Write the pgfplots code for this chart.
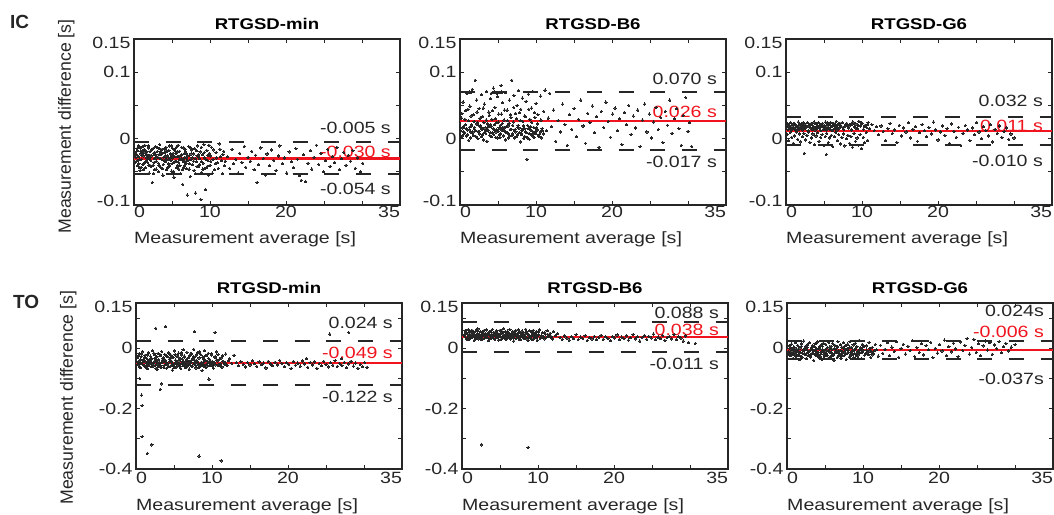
\documentclass[border=0pt]{standalone}
\usepackage{pgfplots}
\pgfplotsset{compat=1.18}
\usepackage{fontspec}
\setmainfont{Liberation Sans}[FakeStretch=1.2]
\newfontfamily\plainsans{Liberation Sans}
\newcommand\tf{\fontsize{16.3bp}{19bp}\selectfont}
\newcommand\ttlf{\fontsize{15.5bp}{18bp}\selectfont}
\newcommand\ylf{\plainsans\fontsize{17.7bp}{20bp}\selectfont}
\newcommand\up[1]{\raisebox{4bp}[\height][\depth]{#1}}
\newcommand\dn[1]{\raisebox{-4bp}[\height][\depth]{#1}}
\definecolor{dk}{gray}{0.15}
\definecolor{lred}{RGB}{240,20,30}
\tikzset{
  lab/.style={anchor=east, inner sep=0pt, xshift=-9bp, font=\tf, text=dk},
  rlab/.style={anchor=east, inner sep=0pt, xshift=-9bp, font=\tf, text=lred},
}
\pgfplotsset{
  ba/.style={
    scale only axis, width=266bp, height=166bp,
    xmin=0, xmax=35,
    xtick={0,5,...,35},
    xticklabels={\hphantom{0}0,,10,,20,,,35\hphantom{35}},
    tick align=inside, tick pos=both,
    major tick length=4bp,
    axis line style={line width=1.5bp, draw=dk},
    every tick/.style={line width=0.8bp, dk},
    tick label style={font=\tf, text=dk},
    /pgf/number format/assume math mode=true,
    title style={font=\ttlf\bfseries, text=black, inner sep=0pt, anchor=base, at={(0.5,1)}, yshift=4bp},
    xlabel={Measurement average [s]},
    xlabel style={font=\tf, text=dk, inner sep=0pt, anchor=base west, at={(axis description cs:0,0)}},
    clip=true,
  },
  row1/.style={ymin=-0.1, ymax=0.15, ytick={-0.1,-0.05,0,0.05,0.1,0.15}, yticklabels={\up{-0.1},,0,,0.1,\dn{0.15}},
    xlabel style={yshift=-38bp}, xticklabel style={yshift=2bp}},
  row2/.style={ymin=-0.4, ymax=0.15, ytick={-0.4,-0.3,-0.2,-0.1,0,0.1,0.15}, yticklabels={-0.4,,-0.2,,0,,\dn{0.15}},
    xlabel style={yshift=-41bp}},
  pts/.style={only marks, mark=*, mark size=1.15bp, color=black!85, mark options={line width=0pt}},
  mline/.style={lred, line width=2.2bp},
  dline/.style={dk, line width=2bp, dash pattern=on 15bp off 16.7bp},
}
\begin{document}
\begin{tikzpicture}
\path[use as bounding box] (0,0) rectangle (1054bp,-515bp);
\node[anchor=base west, inner sep=0pt, font=\plainsans\bfseries\fontsize{19bp}{22bp}\selectfont, text=dk] at (10bp,-28bp) {IC};
\node[anchor=base west, inner sep=0pt, font=\plainsans\bfseries\fontsize{19bp}{22bp}\selectfont, text=dk] at (13bp,-308bp) {TO};

% ---------- IC, RTGSD-min ----------
\begin{axis}[ba, row1, at={(134bp,-39bp)}, anchor=north west, title={RTGSD-min},
  ylabel={Measurement difference [s]},
  ylabel style={font=\ylf, text=dk, inner sep=0pt, at={(axis description cs:-0.237,0.473)}, anchor=base}]
\addplot[pts] coordinates {
(0.2,-0.021) (0.3,-0.034) (0.4,-0.015) (0.5,-0.041) (0.6,-0.027) (0.7,-0.012) (0.8,-0.048) (0.9,-0.023) (1.0,-0.031) (1.1,-0.018) (1.2,-0.039) (1.3,-0.026) (1.4,-0.010) (1.5,-0.044) (1.6,-0.029) (1.7,-0.020) (1.8,-0.036) (1.9,-0.014) (2.0,-0.052) (2.1,-0.025) (2.2,-0.033) (2.3,-0.017) (2.4,-0.066) (2.5,-0.040) (2.6,-0.022) (2.7,-0.030) (2.8,-0.012) (2.9,-0.046) (3.0,-0.027) (3.1,-0.019) (3.2,-0.037) (3.3,-0.024) (3.4,-0.009) (3.5,-0.043) (3.6,-0.031) (3.7,-0.016) (3.8,-0.055) (3.9,-0.028) (4.0,-0.021) (4.1,-0.035) (4.2,-0.013) (4.3,-0.047) (4.4,-0.026) (4.5,-0.032) (4.6,-0.018) (4.7,-0.040) (4.8,-0.023) (4.9,-0.011) (5.0,-0.038) (5.1,-0.029) (5.2,-0.050) (5.3,-0.016) (5.4,-0.034) (5.5,-0.022) (5.6,-0.044) (5.7,-0.027) (5.8,-0.010) (5.9,-0.036) (6.0,-0.019) (6.1,-0.053) (6.2,-0.030) (6.3,-0.024) (6.4,-0.069) (6.5,-0.014) (6.6,-0.041) (6.7,-0.028) (6.8,-0.020) (6.9,-0.045) (7.0,-0.085) (7.1,-0.033) (7.2,-0.012) (7.3,-0.025) (7.4,-0.057) (7.5,-0.031) (7.6,-0.017) (7.7,-0.039) (7.8,-0.023) (7.9,-0.048) (8.1,-0.082) (8.0,-0.015) (8.2,-0.035) (8.3,-0.026) (8.4,-0.011) (8.5,-0.042) (8.6,-0.030) (8.8,-0.092) (8.7,-0.020) (8.9,-0.051) (9.0,-0.024) (9.1,-0.037) (9.2,-0.009) (9.4,-0.077) (9.3,-0.029) (9.5,-0.044) (9.6,-0.018) (9.7,-0.033) (9.8,-0.055) (9.9,-0.022) (10.0,-0.040) (10.2,-0.013) (10.4,-0.031) (10.6,-0.047) (10.8,-0.021) (11.0,-0.036) (11.2,-0.008) (11.4,-0.027) (11.6,-0.053) (11.8,-0.019) (12.0,-0.034)
(0.25,-0.028) (0.45,-0.018) (0.65,-0.038) (0.85,-0.014) (1.05,-0.025) (1.25,-0.047) (1.45,-0.020) (1.65,-0.033) (1.85,-0.011) (2.05,-0.029) (2.25,-0.042) (2.45,-0.016) (2.65,-0.036) (2.85,-0.024) (3.05,-0.013) (3.25,-0.050) (3.45,-0.030) (3.65,-0.021) (3.85,-0.039) (4.05,-0.015) (4.25,-0.028) (4.45,-0.044) (4.65,-0.011) (4.85,-0.033) (5.05,-0.024) (5.25,-0.058) (5.45,-0.019) (5.65,-0.035) (5.85,-0.027) (6.05,-0.041) (6.25,-0.013) (6.45,-0.032) (6.65,-0.022) (6.85,-0.037) (7.05,-0.026) (7.25,-0.046) (7.45,-0.014) (7.65,-0.029) (7.85,-0.034) (8.05,-0.053) (8.25,-0.018) (8.45,-0.027) (8.65,-0.039) (8.85,-0.013) (9.05,-0.046) (9.25,-0.021) (9.45,-0.031) (9.65,-0.042) (9.85,-0.010) (10.1,-0.026) (10.3,-0.052) (10.5,-0.017) (10.7,-0.038) (10.9,-0.029) (11.1,-0.045) (11.3,-0.016) (11.5,-0.033) (11.7,-0.024) (11.9,-0.041)
(0.15,-0.036) (0.35,-0.024) (0.55,-0.011) (0.75,-0.031) (0.95,-0.043) (1.15,-0.022) (1.35,-0.016) (1.55,-0.035) (1.75,-0.027) (1.95,-0.040) (2.15,-0.019) (2.35,-0.026) (2.55,-0.053) (2.75,-0.021) (2.95,-0.034) (3.15,-0.028) (3.35,-0.015) (3.55,-0.024) (3.75,-0.045) (3.95,-0.033) (4.15,-0.026) (4.35,-0.019) (4.55,-0.038) (4.75,-0.029) (4.95,-0.049) (5.15,-0.022) (5.35,-0.027) (5.55,-0.013) (5.75,-0.040) (5.95,-0.031) (6.15,-0.025) (6.35,-0.047) (6.55,-0.035) (6.75,-0.016) (6.95,-0.030)
(0.1,-0.026) (0.5,-0.033) (0.9,-0.019) (1.3,-0.037) (1.7,-0.024) (2.1,-0.040) (2.5,-0.015) (2.9,-0.029) (3.3,-0.041) (3.7,-0.022) (4.1,-0.017) (4.5,-0.043) (4.9,-0.028) (5.3,-0.036) (5.7,-0.020) (6.1,-0.032) (6.5,-0.044) (6.9,-0.023) (7.3,-0.038) (7.7,-0.016) (8.1,-0.030) (8.5,-0.024) (8.9,-0.035) (9.3,-0.045) (9.7,-0.025) (10.1,-0.034) (0.7,-0.044) (1.1,-0.012) (1.9,-0.030) (2.7,-0.047) (3.5,-0.020) (4.3,-0.031) (5.1,-0.015) (5.9,-0.046) (6.7,-0.034) (7.5,-0.023) (8.3,-0.042)
(12.3,-0.027) (12.6,-0.045) (12.9,-0.016) (13.1,-0.038) (13.4,-0.031) (13.7,-0.052) (13.9,-0.022) (14.2,-0.036) (14.5,-0.012) (14.7,-0.043) (15.0,-0.028) (15.3,-0.034) (15.5,-0.019) (15.8,-0.047) (16.2,-0.066) (16.0,-0.025) (16.4,-0.039) (16.7,-0.014) (17.0,-0.030) (17.3,-0.055) (17.5,-0.023) (17.8,-0.041) (18.1,-0.017) (18.4,-0.033) (18.7,-0.048) (19.0,-0.026) (19.2,-0.011) (19.5,-0.038) (19.8,-0.029) (20.1,-0.052) (20.4,-0.020) (20.7,-0.035) (21.0,-0.044) (21.3,-0.015) (21.5,-0.031) (21.8,-0.056) (22.0,-0.063) (22.3,-0.024) (22.6,-0.065) (22.9,-0.037) (23.2,-0.018) (23.4,-0.046) (23.7,-0.028) (24.0,-0.010) (24.3,-0.039) (24.6,-0.022) (24.9,-0.050) (25.2,-0.033) (25.5,-0.016) (25.8,-0.042) (26.1,-0.027) (26.4,-0.036) (26.7,-0.013) (27.0,-0.047) (27.3,-0.030) (27.6,-0.021) (27.9,-0.040) (28.2,-0.025) (28.5,-0.034) (28.8,-0.018) (29.1,-0.045) (29.4,-0.029) (29.8,-0.050) (30.1,-0.037)
};
\addplot[dline] coordinates {(0,-0.005) (35,-0.005)};
\addplot[dline] coordinates {(0,-0.054) (35,-0.054)};
\addplot[mline] coordinates {(0,-0.030) (35,-0.030)};
\node[lab, yshift=14bp] at (axis cs:35,-0.005) {-0.005 s};
\node[rlab, yshift=7bp] at (axis cs:35,-0.030) {-0.030 s};
\node[lab, yshift=-14bp] at (axis cs:35,-0.054) {-0.054 s};
\end{axis}

% ---------- IC, RTGSD-B6 ----------
\begin{axis}[ba, row1, at={(460bp,-39bp)}, anchor=north west, title={RTGSD-B6}]
\addplot[pts] coordinates {
(0.1,0.012) (0.2,0.031) (0.3,0.004) (0.4,0.055) (0.5,0.018) (0.6,0.009) (0.7,0.042) (0.8,0.015) (0.9,0.068) (1.0,0.006) (1.1,0.027) (1.2,0.013) (1.3,0.049) (1.4,0.001) (1.5,0.021) (1.6,0.074) (1.7,0.010) (1.8,0.036) (1.9,0.017) (2.0,0.088) (2.1,0.003) (2.2,0.058) (2.3,0.024) (2.4,0.011) (2.5,0.045) (2.6,0.007) (2.7,0.019) (2.8,0.066) (2.9,0.014) (3.0,0.033) (3.1,-0.002) (3.2,0.052) (3.3,0.016) (3.4,0.008) (3.5,0.071) (3.6,0.022) (3.7,0.012) (3.8,0.040) (3.9,0.005) (4.0,0.060) (4.1,0.018) (4.2,0.029) (4.3,0.009) (4.4,0.076) (4.5,0.014) (4.6,0.047) (4.7,0.002) (4.8,0.024) (4.9,0.063) (5.0,0.011) (5.1,0.037) (5.2,0.006) (5.3,0.020) (5.4,0.080) (5.5,0.013) (5.6,0.054) (5.7,0.004) (5.8,0.028) (5.9,0.016) (6.0,0.069) (6.1,0.009) (6.2,0.043) (6.3,0.019) (6.4,0.001) (6.5,0.058) (6.6,0.014) (6.7,0.032) (6.8,0.088) (6.9,0.007) (7.0,0.025) (7.1,0.065) (7.2,0.012) (7.3,0.038) (7.4,0.003) (7.5,0.050) (7.6,0.017) (7.7,0.072) (7.8,0.009) (7.9,0.027) (8.0,0.044) (8.1,0.006) (8.2,0.061) (8.3,0.015) (8.4,0.000) (8.5,0.034) (8.6,0.011) (8.7,0.056) (8.8,-0.031) (8.9,0.020) (9.0,0.067) (9.1,0.008) (9.2,0.029) (9.3,0.013) (9.4,0.046) (9.5,0.004) (9.6,0.071) (9.7,0.017) (9.8,0.039) (9.9,0.010) (10.0,0.053) (10.2,0.022) (10.4,0.006) (10.6,0.064) (10.8,0.015) (11.0,0.041) (11.2,0.073) (11.4,0.012) (11.6,0.031) (11.8,0.068)
(0.15,0.002) (0.35,0.016) (0.55,0.008) (0.75,0.021) (0.95,0.013) (1.15,-0.003) (1.35,0.010) (1.55,0.019) (1.75,0.005) (1.95,0.014) (2.15,0.022) (2.35,0.000) (2.55,0.011) (2.75,0.017) (2.95,0.006) (3.15,0.024) (3.35,0.012) (3.55,-0.004) (3.75,0.018) (3.95,0.009) (4.15,0.003) (4.35,0.015) (4.55,0.021) (4.75,0.010) (4.95,0.001) (5.15,0.016) (5.35,0.007) (5.55,0.023) (5.75,0.012) (5.95,-0.002) (6.15,0.018) (6.35,0.008) (6.55,0.004) (6.75,0.014) (6.95,0.020) (7.15,0.001) (7.35,0.010) (7.55,0.006) (7.75,0.016) (7.95,-0.005) (8.15,0.012) (8.35,0.019) (8.55,0.003) (8.75,0.009) (8.95,0.015) (9.15,-0.001) (9.35,0.006) (9.55,0.011) (9.75,0.002) (9.95,0.008) (10.15,0.013) (10.35,0.004) (10.55,0.010) (10.75,0.001) (10.95,0.007)
(0.45,0.010) (0.85,0.004) (1.25,0.017) (1.65,0.008) (2.05,0.012) (2.45,0.020) (2.85,0.003) (3.25,0.009) (3.65,0.014) (4.05,0.021) (4.45,0.006) (4.85,0.013) (5.25,0.002) (5.65,0.017) (6.05,0.010) (6.45,0.023) (6.85,0.005) (7.25,0.014) (7.65,0.020) (8.05,0.008) (8.45,0.015) (8.85,0.001) (9.25,0.018) (9.65,0.007) (10.05,0.016) (10.45,0.003) (10.85,0.012)
(0.25,0.038) (0.65,0.029) (1.05,0.044) (1.45,0.034) (1.85,0.026) (2.25,0.040) (2.65,0.031) (3.05,0.046) (3.45,0.028) (3.85,0.035) (4.25,0.042) (4.65,0.030) (5.05,0.025) (5.45,0.037) (5.85,0.043) (6.25,0.027) (6.65,0.036) (7.05,0.047) (7.45,0.030) (7.85,0.039) (8.25,0.026) (8.65,0.033) (9.05,0.044) (9.45,0.024) (9.85,0.032) (10.25,0.036) (10.65,0.028)
(1.2,0.070) (1.35,0.069) (4.1,0.068) (4.3,0.069) (4.6,0.070) (4.9,0.068) (5.2,0.069) (5.5,0.070)
(12.0,0.018) (12.3,0.043) (12.6,-0.004) (12.9,0.027) (13.2,0.010) (13.5,0.052) (13.8,0.021) (14.1,-0.010) (14.4,0.036) (14.7,0.014) (15.0,0.045) (15.3,0.003) (15.6,0.029) (15.9,0.058) (16.2,0.019) (16.5,-0.007) (16.8,0.038) (17.1,0.024) (17.4,0.049) (17.7,0.009) (18.0,0.033) (18.3,-0.013) (18.6,0.041) (18.9,0.017) (19.2,0.055) (19.5,0.026) (19.8,0.002) (20.1,0.037) (20.4,0.046) (20.7,0.012) (21.0,0.030) (21.3,-0.009) (21.6,0.039) (21.9,0.021) (22.2,0.050) (22.5,0.006) (22.8,0.034) (23.1,0.016) (23.4,0.043) (23.7,-0.012) (24.0,0.028) (24.3,0.052) (24.6,0.010) (24.9,0.037) (25.2,0.001) (25.5,0.025) (25.8,0.047) (26.1,0.014) (26.4,0.032) (26.7,-0.006) (27.0,0.041) (27.3,0.020) (27.6,0.058) (27.9,0.008) (28.2,0.030) (28.5,0.045) (28.8,0.015) (29.1,-0.010) (29.4,0.035) (29.7,0.062) (30.0,0.011) (30.5,-0.012) (30.2,0.024)
};
\addplot[dline] coordinates {(0,0.070) (35,0.070)};
\addplot[dline] coordinates {(0,-0.017) (35,-0.017)};
\addplot[mline] coordinates {(0,0.026) (35,0.026)};
\node[lab, yshift=13bp] at (axis cs:35,0.070) {0.070 s};
\node[rlab, yshift=9bp] at (axis cs:35,0.026) {0.026 s};
\node[lab, yshift=-12bp] at (axis cs:35,-0.017) {-0.017 s};
\end{axis}

% ---------- IC, RTGSD-G6 ----------
\begin{axis}[ba, row1, at={(786bp,-39bp)}, anchor=north west, title={RTGSD-G6}]
\addplot[pts] coordinates {
(0.1,0.018) (0.2,0.022) (0.3,0.014) (0.4,0.020) (0.5,0.016) (0.6,0.024) (0.7,0.013) (0.8,0.019) (0.9,0.021) (1.0,0.015) (1.1,0.023) (1.2,0.017) (1.3,0.012) (1.4,0.020) (1.5,0.018) (1.6,0.025) (1.7,0.014) (1.8,0.021) (1.9,0.016) (2.0,0.019) (2.1,0.023) (2.2,0.013) (2.3,0.018) (2.4,0.022) (2.5,0.015) (2.6,0.020) (2.7,0.017) (2.8,0.024) (2.9,0.012) (3.0,0.019) (3.1,0.021) (3.2,0.016) (3.3,0.023) (3.4,0.014) (3.5,0.020) (3.6,0.018) (3.7,0.025) (3.8,0.013) (3.9,0.017) (4.0,0.022) (4.1,0.015) (4.2,0.019) (4.3,0.024) (4.4,0.016) (4.5,0.021) (4.6,0.012) (4.7,0.018) (4.8,0.023) (4.9,0.014) (5.0,0.020) (5.1,0.017) (5.2,0.025) (5.3,0.013) (5.4,0.019) (5.5,0.022) (5.6,0.016) (5.7,0.021) (5.8,0.014) (5.9,0.024) (6.0,0.018) (6.1,0.012) (6.2,0.020) (6.3,0.023) (6.4,0.015) (6.5,0.019) (6.6,0.026) (6.7,0.013) (6.8,0.017) (6.9,0.022) (7.0,0.016) (7.2,0.020) (7.4,0.024) (7.6,0.014) (7.8,0.019) (8.0,0.023) (8.2,0.016) (8.4,0.021) (8.6,0.013) (8.8,0.025) (9.0,0.018) (9.2,0.022) (9.4,0.015) (9.6,0.026) (9.8,0.019) (10.0,0.023) (10.2,0.014) (10.4,0.020) (10.6,0.017) (10.8,0.024) (11.0,0.015) (11.3,0.021) (11.6,0.012) (11.9,0.018)
(0.25,0.020) (0.65,0.016) (1.05,0.022) (1.45,0.014) (1.85,0.019) (2.25,0.024) (2.65,0.017) (3.05,0.021) (3.45,0.015) (3.85,0.023) (4.25,0.018) (4.65,0.020) (5.05,0.014) (5.45,0.024) (5.85,0.017) (6.25,0.021) (6.65,0.019) (7.1,0.023) (7.5,0.017) (7.9,0.021) (8.3,0.019) (8.7,0.022) (9.1,0.016) (9.5,0.020) (9.9,0.024) (10.3,0.018) (10.7,0.021)
(0.15,0.006) (0.35,-0.003) (0.55,0.009) (0.75,0.002) (0.95,-0.007) (1.15,0.004) (1.35,0.010) (1.55,-0.001) (1.75,0.007) (1.95,-0.005) (2.15,0.003) (2.4,-0.022) (2.35,0.008) (2.55,-0.002) (2.75,0.005) (2.95,0.010) (3.15,-0.006) (3.35,0.001) (3.55,0.007) (3.75,-0.009) (3.95,0.004) (4.15,0.009) (4.35,-0.004) (4.55,0.002) (4.75,0.006) (4.95,-0.010) (5.15,0.003) (5.3,-0.024) (5.35,0.008) (5.55,-0.006) (5.75,0.001) (5.95,0.005) (6.15,-0.012) (6.35,0.003) (6.55,0.009) (6.75,-0.003) (6.95,0.006) (7.15,-0.008) (7.35,0.002) (7.55,0.007) (7.75,-0.011) (7.95,0.000) (8.15,0.005) (8.35,-0.007) (8.55,0.003) (8.75,-0.013) (8.95,0.008) (9.15,-0.004) (9.35,0.001) (9.55,-0.010) (9.75,0.006) (9.95,-0.015) (10.15,0.002) (10.35,-0.006) (10.55,0.009) (10.75,-0.003)
(12.2,0.006) (12.5,0.019) (12.8,0.011) (13.1,-0.003) (13.4,0.015) (13.7,0.023) (14.0,0.008) (14.3,0.013) (14.6,-0.006) (14.9,0.020) (15.2,0.004) (15.5,0.016) (15.8,0.010) (16.1,0.024) (16.4,0.001) (16.7,0.014) (17.0,0.018) (17.3,-0.004) (17.6,0.009) (17.9,0.021) (18.2,0.012) (18.5,0.003) (18.8,0.017) (19.1,0.007) (19.4,0.025) (19.7,0.013) (20.0,-0.002) (20.3,0.010) (20.6,0.019) (20.9,0.005) (21.2,0.015) (21.5,-0.007) (21.8,0.022) (22.1,0.011) (22.4,0.002) (22.7,0.017) (23.0,-0.010) (23.3,0.008) (23.6,0.020) (23.9,0.013) (24.2,-0.003) (24.5,0.016) (24.8,0.006) (25.1,0.024) (25.4,0.010) (25.7,0.000) (26.0,0.018) (26.3,0.012) (26.6,0.004) (26.9,0.021) (27.2,-0.005) (27.5,0.014) (27.8,0.008) (28.1,0.019) (28.4,0.002) (28.7,0.011) (29.0,0.016) (29.3,-0.001) (29.6,0.007) (30.0,0.001)
};
\addplot[dline] coordinates {(0,0.032) (35,0.032)};
\addplot[dline] coordinates {(0,-0.010) (35,-0.010)};
\addplot[mline] coordinates {(0,0.011) (35,0.011)};
\node[lab, yshift=16bp] at (axis cs:35,0.032) {0.032 s};
\node[rlab, yshift=5bp] at (axis cs:35,0.011) {0.011 s};
\node[lab, yshift=-16bp] at (axis cs:35,-0.010) {-0.010 s};
\end{axis}

% ---------- TO, RTGSD-min ----------
\begin{axis}[ba, row2, at={(136bp,-303bp)}, anchor=north west, title={RTGSD-min},
  ylabel={Measurement difference [s]},
  ylabel style={font=\ylf, text=dk, inner sep=0pt, at={(axis description cs:-0.237,0.43)}, anchor=base}]
\addplot[pts] coordinates {
(0.2,-0.030) (0.3,-0.055) (0.4,-0.018) (0.5,-0.042) (0.6,-0.064) (0.7,-0.027) (0.8,-0.048) (0.9,-0.012) (1.0,-0.037) (1.1,-0.058) (1.2,-0.023) (1.3,-0.045) (1.4,-0.033) (1.5,-0.068) (1.6,-0.015) (1.7,-0.040) (1.8,-0.052) (1.9,-0.026) (2.0,-0.061) (2.1,-0.035) (2.2,-0.008) (2.3,-0.047) (2.4,-0.021) (2.5,-0.056) (2.6,-0.031) (2.7,-0.043) (2.8,-0.070) (2.9,-0.017) (3.0,-0.038) (3.1,-0.053) (3.2,-0.025) (3.3,-0.063) (3.4,-0.011) (3.5,-0.046) (3.6,-0.032) (3.7,-0.057) (3.8,-0.020) (3.9,-0.041) (4.0,-0.066) (4.1,-0.028) (4.2,-0.050) (4.3,-0.014) (4.4,-0.036) (4.5,-0.060) (4.6,-0.023) (4.7,-0.044) (4.8,-0.072) (4.9,-0.030) (5.0,-0.054) (5.1,-0.009) (5.2,-0.039) (5.3,-0.062) (5.4,-0.026) (5.5,-0.048) (5.6,-0.016) (5.7,-0.058) (5.8,-0.034) (5.9,-0.067) (6.0,-0.022) (6.1,-0.045) (6.2,-0.005) (6.3,-0.052) (6.4,-0.029) (6.5,-0.063) (6.6,-0.038) (6.7,-0.013) (6.8,-0.056) (6.9,-0.031) (7.0,-0.069) (7.1,-0.024) (7.2,-0.047) (7.3,-0.018) (7.4,-0.059) (7.5,-0.035) (7.6,-0.003) (7.7,-0.051) (7.8,-0.027) (7.9,-0.065) (8.0,-0.041) (8.1,-0.014) (8.2,-0.055) (8.3,-0.032) (8.4,-0.061) (8.5,-0.020) (8.6,-0.046) (8.7,-0.074) (8.8,-0.029) (8.9,-0.053) (9.0,-0.008) (9.1,-0.040) (9.2,-0.064) (9.3,-0.025) (9.4,-0.049) (9.5,-0.017) (9.6,-0.102) (9.7,-0.037) (9.8,-0.058) (9.9,-0.022) (10.0,-0.044) (10.2,-0.066) (10.4,-0.031) (10.6,-0.012) (10.8,-0.054) (11.0,-0.036) (11.2,-0.060) (11.4,-0.024) (11.6,-0.047) (11.8,-0.019) (12.0,-0.057) (12.3,-0.035) (12.6,-0.050) (12.9,-0.023)
(0.25,-0.047) (0.45,-0.060) (0.65,-0.038) (0.85,-0.053) (1.05,-0.044) (1.25,-0.062) (1.45,-0.050) (1.65,-0.057) (1.85,-0.039) (2.05,-0.049) (2.25,-0.059) (2.45,-0.043) (2.65,-0.066) (2.85,-0.052) (3.05,-0.046) (3.25,-0.058) (3.45,-0.040) (3.65,-0.063) (3.85,-0.054) (4.05,-0.048) (4.25,-0.061) (4.45,-0.044) (4.65,-0.056) (4.85,-0.051) (5.05,-0.064) (5.25,-0.047) (5.45,-0.055) (5.65,-0.042) (5.85,-0.060) (6.05,-0.050) (6.25,-0.057) (6.45,-0.045) (6.65,-0.062) (6.85,-0.049) (7.05,-0.054) (7.25,-0.041) (7.45,-0.059) (7.65,-0.048) (7.85,-0.056) (8.05,-0.044) (8.25,-0.063) (8.45,-0.052) (8.65,-0.058) (8.85,-0.046) (9.05,-0.061) (9.25,-0.053) (9.45,-0.043) (9.65,-0.057) (9.85,-0.050) (10.1,-0.060) (10.3,-0.047) (10.5,-0.055) (10.7,-0.042) (10.9,-0.058) (11.1,-0.051) (11.3,-0.062) (11.5,-0.045) (11.7,-0.054)
(0.55,-0.050) (0.95,-0.040) (1.35,-0.056) (1.75,-0.045) (2.15,-0.052) (2.55,-0.037) (2.95,-0.060) (3.35,-0.048) (3.75,-0.042) (4.15,-0.055) (4.55,-0.039) (4.95,-0.058) (5.35,-0.044) (5.75,-0.051) (6.15,-0.036) (6.55,-0.053) (6.95,-0.043) (7.35,-0.061) (7.75,-0.040) (8.15,-0.049) (8.55,-0.056) (8.95,-0.038) (9.35,-0.059) (9.75,-0.045) (10.2,-0.052) (10.6,-0.039) (11.0,-0.055) (11.4,-0.043) (11.8,-0.049) (12.2,-0.041)
(0.35,-0.025) (0.75,-0.019) (1.15,-0.030) (1.55,-0.022) (1.95,-0.034) (2.35,-0.016) (2.75,-0.028) (3.15,-0.020) (3.55,-0.033) (3.95,-0.024) (4.35,-0.018) (4.75,-0.031) (5.15,-0.021) (5.55,-0.029) (5.95,-0.015) (6.35,-0.026) (6.75,-0.034) (7.15,-0.019) (7.55,-0.028) (7.95,-0.022) (8.35,-0.012) (8.75,-0.030) (9.15,-0.024) (9.55,-0.033) (9.95,-0.018) (10.4,-0.027) (10.8,-0.021) (11.2,-0.032)
(13.2,-0.048) (13.5,-0.058) (13.8,-0.044) (14.1,-0.053) (14.4,-0.062) (14.7,-0.047) (15.0,-0.055) (15.3,-0.041) (15.6,-0.051) (15.9,-0.060) (16.2,-0.045) (16.5,-0.054) (16.8,-0.049) (17.1,-0.065) (17.4,-0.043) (17.7,-0.052) (18.0,-0.058) (18.3,-0.046) (18.6,-0.055) (18.9,-0.040) (19.2,-0.050) (19.5,-0.061) (19.8,-0.047) (20.1,-0.053) (20.4,-0.068) (20.7,-0.044) (21.0,-0.056) (21.3,-0.049) (21.6,-0.059) (21.9,-0.042) (22.2,-0.052) (22.4,-0.035) (22.6,-0.063) (22.9,-0.048) (23.2,-0.055) (23.5,-0.045) (23.8,-0.067) (24.1,-0.051) (24.4,-0.058) (24.7,-0.043) (25.0,-0.054) (25.3,-0.062) (25.5,0.047) (25.6,-0.048) (25.9,-0.056) (26.2,-0.041) (26.5,-0.060) (26.8,-0.050) (27.0,-0.035) (27.1,-0.057) (27.4,-0.046) (27.7,-0.064) (28.0,0.052) (28.0,-0.052) (28.3,-0.043) (28.6,-0.059) (28.9,-0.049) (29.2,-0.066) (29.5,-0.054) (29.8,-0.061) (30.1,-0.047) (30.4,-0.063)
(2.6,0.066) (3.9,0.072) (7.7,0.055) (10.4,0.052) (0.5,-0.100) (3.4,-0.118) (3.2,-0.136) (0.74,-0.155) (0.8,-0.190) (0.8,-0.293) (2.1,-0.320) (1.5,-0.348) (8.3,-0.357) (11.2,-0.373)
};
\addplot[dline] coordinates {(0,0.024) (35,0.024)};
\addplot[dline] coordinates {(0,-0.122) (35,-0.122)};
\addplot[mline] coordinates {(0,-0.049) (35,-0.049)};
\node[lab, yshift=18bp] at (axis cs:35,0.024) {0.024 s};
\node[rlab, yshift=10bp] at (axis cs:35,-0.049) {-0.049 s};
\node[lab, yshift=-12bp] at (axis cs:35,-0.122) {-0.122 s};
\end{axis}

% ---------- TO, RTGSD-B6 ----------
\begin{axis}[ba, row2, at={(462bp,-303bp)}, anchor=north west, title={RTGSD-B6}]
\addplot[pts] coordinates {
(0.3,0.045) (0.4,0.058) (0.5,0.036) (0.6,0.051) (0.7,0.029) (0.8,0.062) (0.9,0.041) (1.0,0.054) (1.1,0.033) (1.2,0.047) (1.3,0.060) (1.4,0.038) (1.5,0.052) (1.6,0.026) (1.7,0.044) (1.8,0.057) (1.9,0.035) (2.0,0.049) (2.1,0.064) (2.2,0.031) (2.3,0.046) (2.4,0.055) (2.5,0.039) (2.6,0.028) (2.7,0.053) (2.8,0.042) (2.9,0.059) (3.0,0.034) (3.1,0.048) (3.2,0.061) (3.3,0.037) (3.4,0.050) (3.5,0.025) (3.6,0.044) (3.7,0.056) (3.8,0.032) (3.9,0.047) (4.0,0.063) (4.1,0.040) (4.2,0.053) (4.3,0.030) (4.4,0.045) (4.5,0.058) (4.6,0.036) (4.7,0.050) (4.8,0.027) (4.9,0.043) (5.0,0.060) (5.1,0.038) (5.2,0.052) (5.3,0.033) (5.4,0.047) (5.5,0.065) (5.6,0.041) (5.7,0.055) (5.8,0.029) (5.9,0.044) (6.0,0.057) (6.1,0.035) (6.2,0.049) (6.3,0.062) (6.4,0.031) (6.5,0.046) (6.6,0.054) (6.7,0.039) (6.8,0.024) (6.9,0.051) (7.0,0.042) (7.1,0.059) (7.2,0.034) (7.3,0.048) (7.4,0.061) (7.5,0.037) (7.6,0.052) (7.7,0.028) (7.8,0.045) (7.9,0.057) (8.0,0.040) (8.1,0.053) (8.2,0.032) (8.3,0.047) (8.4,0.063) (8.5,0.036) (8.6,0.050) (8.7,0.026) (8.8,0.043) (8.9,0.058) (9.0,0.038) (9.1,0.054) (9.2,0.030) (9.3,0.046) (9.4,0.060) (9.5,0.035) (9.6,0.049) (9.7,0.041) (9.8,0.056) (9.9,0.027) (10.0,0.044) (10.2,0.061) (10.4,0.037) (10.6,0.052) (10.8,0.031) (11.0,0.047) (11.2,0.058) (11.4,0.039) (11.6,0.050) (11.8,0.034) (12.0,0.055) (12.3,0.042) (12.6,0.048)
(0.35,0.040) (0.55,0.033) (0.75,0.047) (0.95,0.030) (1.15,0.043) (1.35,0.036) (1.55,0.041) (1.75,0.032) (1.95,0.045) (2.15,0.038) (2.35,0.034) (2.55,0.046) (2.75,0.031) (2.95,0.042) (3.15,0.037) (3.35,0.044) (3.55,0.033) (3.75,0.040) (3.95,0.035) (4.15,0.047) (4.35,0.032) (4.55,0.041) (4.75,0.036) (4.95,0.044) (5.15,0.030) (5.35,0.039) (5.55,0.034) (5.75,0.046) (5.95,0.037) (6.15,0.043) (6.35,0.031) (6.55,0.040) (6.75,0.035) (6.95,0.045) (7.15,0.033) (7.35,0.041) (7.55,0.029) (7.75,0.038) (7.95,0.044) (8.15,0.034) (8.35,0.040) (8.55,0.031) (8.75,0.046) (8.95,0.036) (9.15,0.042) (9.35,0.030) (9.55,0.039) (9.75,0.035) (9.95,0.043) (10.3,0.033) (10.7,0.040) (11.1,0.036) (11.5,0.044) (11.9,0.031)
(0.45,0.052) (0.85,0.037) (1.25,0.055) (1.65,0.040) (2.05,0.058) (2.45,0.035) (2.85,0.050) (3.25,0.043) (3.65,0.054) (4.05,0.038) (4.45,0.051) (4.85,0.046) (5.25,0.057) (5.65,0.036) (6.05,0.053) (6.45,0.042) (6.85,0.056) (7.25,0.039) (7.65,0.051) (8.05,0.047) (8.45,0.055) (8.85,0.038) (9.25,0.052) (9.65,0.045) (10.1,0.056) (10.5,0.041) (10.9,0.053) (11.3,0.046) (11.7,0.040)
(12.9,0.036) (13.2,0.030) (13.5,0.041) (13.8,0.034) (14.1,0.027) (14.4,0.039) (14.7,0.032) (15.0,0.045) (15.3,0.029) (15.6,0.037) (15.9,0.033) (16.2,0.042) (16.5,0.026) (16.8,0.035) (17.1,0.031) (17.4,0.040) (17.7,0.028) (18.0,0.036) (18.3,0.043) (18.6,0.030) (18.9,0.038) (19.2,0.033) (19.5,0.025) (19.8,0.039) (20.1,0.034) (20.4,0.044) (20.7,0.029) (21.0,0.037) (21.3,0.032) (21.6,0.041) (21.9,0.027) (22.2,0.035) (22.5,0.046) (22.8,0.031) (23.1,0.038) (23.4,0.024) (23.7,0.036) (24.0,0.042) (24.3,0.030) (24.6,0.039) (24.9,0.034) (25.2,0.047) (25.5,0.028) (25.8,0.037) (26.1,0.032) (26.4,0.043) (26.7,0.026) (27.0,0.036) (27.3,0.040) (27.6,0.031) (27.9,0.045) (28.2,0.029) (28.5,0.038) (28.8,0.034) (29.1,0.024) (29.4,0.041) (29.8,0.019) (30.7,0.016)
(2.6,-0.320) (8.7,-0.328)
};
\addplot[dline] coordinates {(0,0.088) (35,0.088)};
\addplot[dline] coordinates {(0,-0.011) (35,-0.011)};
\addplot[mline] coordinates {(0,0.038) (35,0.038)};
\node[lab, yshift=9bp] at (axis cs:35,0.088) {0.088 s};
\node[rlab, yshift=7bp] at (axis cs:35,0.038) {0.038 s};
\node[lab, yshift=-12bp] at (axis cs:35,-0.011) {-0.011 s};
\end{axis}

% ---------- TO, RTGSD-G6 ----------
\begin{axis}[ba, row2, at={(787bp,-303bp)}, anchor=north west, title={RTGSD-G6}]
\addplot[pts] coordinates {
(0.2,-0.010) (0.3,0.008) (0.4,-0.025) (0.5,-0.002) (0.6,0.014) (0.7,-0.018) (0.8,-0.033) (0.9,0.004) (1.0,-0.012) (1.1,0.019) (1.2,-0.027) (1.3,-0.006) (1.4,0.010) (1.5,-0.021) (1.6,-0.038) (1.7,0.001) (1.8,-0.015) (1.9,0.016) (2.0,-0.030) (2.1,-0.008) (2.2,0.024) (2.3,-0.019) (2.4,0.006) (2.5,-0.035) (2.6,-0.004) (2.7,0.012) (2.8,-0.023) (2.9,-0.011) (3.0,0.018) (3.1,-0.029) (3.2,0.002) (3.3,-0.016) (3.4,0.009) (3.5,-0.040) (3.6,-0.007) (3.7,0.015) (3.8,-0.024) (3.9,-0.001) (4.0,0.021) (4.1,-0.013) (4.2,-0.031) (4.3,0.005) (4.4,-0.020) (4.5,0.011) (4.6,-0.036) (4.7,-0.005) (4.8,0.017) (4.9,-0.026) (5.0,-0.009) (5.1,0.013) (5.2,-0.017) (5.3,0.003) (5.4,-0.034) (5.5,0.020) (5.6,-0.012) (5.7,-0.028) (5.8,0.007) (5.9,-0.003) (6.0,0.016) (6.1,-0.022) (6.2,-0.039) (6.3,0.010) (6.4,-0.014) (6.5,0.000) (6.6,-0.030) (6.7,0.022) (6.8,-0.008) (6.9,-0.019) (7.0,0.012) (7.1,-0.033) (7.2,0.004) (7.3,-0.011) (7.4,0.018) (7.5,-0.025) (7.6,-0.002) (7.7,0.009) (7.8,-0.037) (7.9,-0.016) (8.0,0.014) (8.1,-0.006) (8.2,-0.029) (8.3,0.023) (8.4,-0.013) (8.5,0.002) (8.6,-0.021) (8.7,0.011) (8.8,-0.032) (8.9,-0.004) (9.0,0.017) (9.1,-0.018) (9.2,0.006) (9.3,-0.027) (9.4,-0.009) (9.5,0.026) (9.6,-0.015) (9.7,0.001) (9.8,-0.035) (9.9,0.013) (10.0,-0.007) (10.2,-0.023) (10.4,0.008) (10.6,-0.012) (10.8,0.019) (11.0,-0.030) (11.2,0.003) (11.4,-0.017) (11.6,0.012) (11.8,-0.005) (12.0,-0.026)
(0.25,-0.017) (0.45,0.003) (0.65,-0.009) (0.85,-0.021) (1.05,0.001) (1.25,-0.013) (1.45,-0.003) (1.65,-0.024) (1.85,0.006) (2.05,-0.016) (2.25,-0.006) (2.45,-0.020) (2.65,0.002) (2.85,-0.011) (3.05,-0.027) (3.25,-0.005) (3.45,-0.018) (3.65,0.005) (3.85,-0.010) (4.05,-0.022) (4.25,-0.002) (4.45,-0.014) (4.65,0.007) (4.85,-0.019) (5.05,-0.004) (5.25,-0.025) (5.45,-0.008) (5.65,0.004) (5.85,-0.015) (6.05,-0.021) (6.25,-0.001) (6.45,-0.012) (6.65,0.006) (6.85,-0.023) (7.05,-0.007) (7.25,-0.016) (7.45,0.001) (7.65,-0.020) (7.85,-0.005) (8.05,-0.013) (8.25,0.004) (8.45,-0.024) (8.65,-0.009) (8.85,-0.017) (9.05,0.000) (9.25,-0.011) (9.45,-0.022) (9.65,-0.003) (9.85,-0.014) (10.1,0.005) (10.3,-0.018) (10.5,-0.006) (10.7,-0.021) (10.9,-0.001) (11.1,-0.012) (11.5,-0.008)
(0.35,-0.014) (0.75,-0.004) (1.15,-0.019) (1.55,-0.010) (1.95,-0.028) (2.35,-0.002) (2.75,-0.015) (3.15,-0.021) (3.55,-0.008) (3.95,-0.017) (4.35,-0.026) (4.75,-0.011) (5.15,-0.020) (5.55,-0.003) (5.95,-0.024) (6.35,-0.010) (6.75,-0.016) (7.15,-0.027) (7.55,-0.012) (7.95,-0.002) (8.35,-0.019) (8.75,-0.007) (9.15,-0.025) (9.55,-0.013) (9.95,-0.004) (10.4,-0.016) (10.8,-0.009) (11.2,-0.022)
(12.3,0.010) (12.6,-0.017) (12.9,-0.003) (13.2,0.018) (13.5,-0.024) (13.8,0.004) (14.1,-0.010) (14.4,0.022) (14.7,-0.030) (15.0,-0.001) (15.3,0.013) (15.6,-0.019) (15.9,0.007) (16.2,-0.007) (16.5,0.025) (16.8,-0.027) (17.1,0.002) (17.4,-0.014) (17.7,0.016) (18.0,-0.022) (18.3,0.009) (18.6,-0.005) (18.9,0.020) (19.2,-0.031) (19.5,0.000) (19.8,-0.016) (20.1,0.012) (20.4,-0.009) (20.7,0.027) (21.0,-0.024) (21.3,0.005) (21.6,-0.012) (21.9,0.017) (22.2,-0.002) (22.5,-0.028) (22.8,0.021) (23.1,-0.007) (23.4,0.010) (23.7,0.032) (24.0,-0.019) (24.3,0.003) (24.6,0.029) (24.9,-0.013) (25.2,0.015) (25.5,-0.025) (25.8,0.008) (26.1,0.024) (26.4,-0.006) (26.7,0.018) (27.0,-0.020) (27.3,0.011) (27.6,-0.001) (27.9,0.022) (28.2,-0.015) (28.5,0.006) (28.8,0.016) (29.1,-0.009) (29.5,0.004) (30.0,0.012)
};
\addplot[dline] coordinates {(0,0.024) (35,0.024)};
\addplot[dline] coordinates {(0,-0.037) (35,-0.037)};
\addplot[mline] coordinates {(0,-0.006) (35,-0.006)};
\node[lab, yshift=30bp] at (axis cs:35,0.024) {0.024s};
\node[rlab, yshift=18bp] at (axis cs:35,-0.006) {-0.006 s};
\node[lab, yshift=-19bp] at (axis cs:35,-0.037) {-0.037s};
\end{axis}
\end{tikzpicture}
\end{document}
